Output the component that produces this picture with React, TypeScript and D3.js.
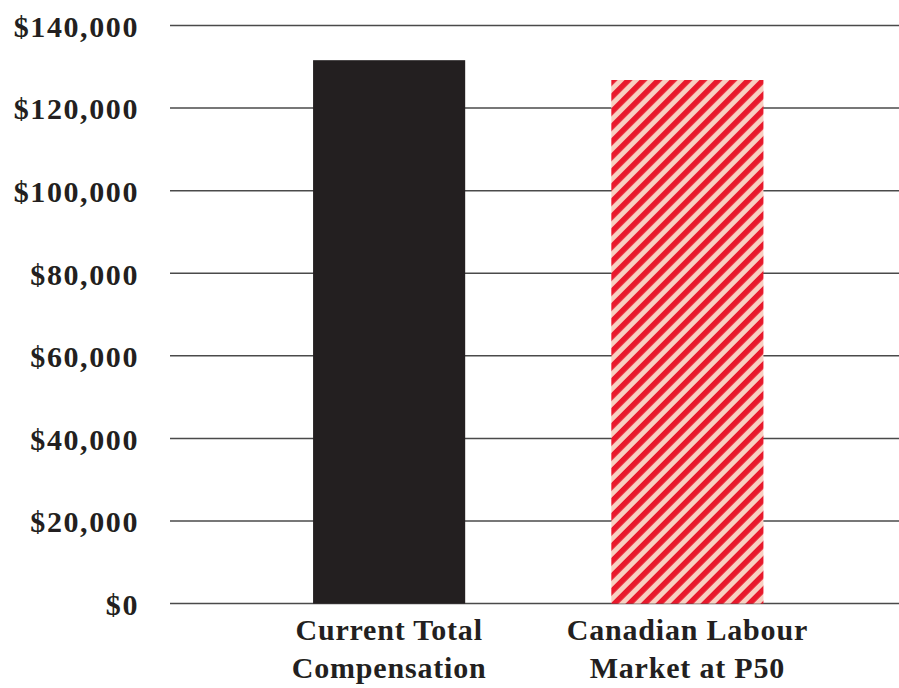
import React from "react";
import * as d3 from "d3";

// Chart data
const categories: string[][] = [
  ["Current Total", "Compensation"],
  ["Canadian Labour", "Market at P50"],
];
const categoryKeys: string[] = ["current", "market"];
const values: number[] = [131600, 126800];
const yTicks: number[] = [0, 20000, 40000, 60000, 80000, 100000, 120000, 140000];

const W = 899;
const H = 688;
const INK = "#231F20";
const RED = "#E8192C";
const PINK = "#F8D0C2";

export default function App() {
  const y = d3.scaleLinear().domain([0, 140000]).range([603.6, 25.5]);
  const x = d3
    .scaleBand<string>()
    .domain(categoryKeys)
    .range([240, 836.5])
    .paddingInner(0.49)
    .paddingOuter(0.245);
  const fmt = (v: number) => "$" + d3.format(",")(v);
  const font = "'Liberation Serif', 'Times New Roman', serif";

  return (
    <svg
      width={W}
      height={H}
      style={{ position: "absolute", left: 0, top: 0, background: "#fff" }}
      fontFamily={font}
    >
      <defs>
        <pattern
          id="hatch"
          patternUnits="userSpaceOnUse"
          width={10.6}
          height={10.6}
          patternTransform="rotate(45)"
        >
          <rect x={0} y={0} width={10.6} height={10.6} fill={PINK} />
          <rect x={0} y={0} width={5.6} height={10.6} fill={RED} />
        </pattern>
      </defs>

      {yTicks.map((t) => (
        <g key={t}>
          <line
            x1={170}
            x2={W}
            y1={y(t)}
            y2={y(t)}
            stroke="#4a4a4a"
            strokeWidth={1.5}
          />
          <text
            x={139}
            y={y(t)}
            dy="0.38em"
            textAnchor="end"
            fontSize={30}
            fontWeight="bold"
            letterSpacing={1.6}
            fill={INK}
          >
            {fmt(t)}
          </text>
        </g>
      ))}

      {categoryKeys.map((k, i) => (
        <rect
          key={k}
          x={x(k)}
          y={y(values[i])}
          width={x.bandwidth()}
          height={y(0) - y(values[i])}
          fill={i === 0 ? INK : "url(#hatch)"}
        />
      ))}

      {categoryKeys.map((k, i) => (
        <text
          key={k}
          x={(x(k) as number) + x.bandwidth() / 2}
          textAnchor="middle"
          fontSize={30}
          fontWeight="bold"
          letterSpacing={0.8}
          fill={INK}
        >
          {categories[i].map((line, j) => (
            <tspan key={j} x={(x(k) as number) + x.bandwidth() / 2} y={640 + j * 38}>
              {line}
            </tspan>
          ))}
        </text>
      ))}
    </svg>
  );
}
